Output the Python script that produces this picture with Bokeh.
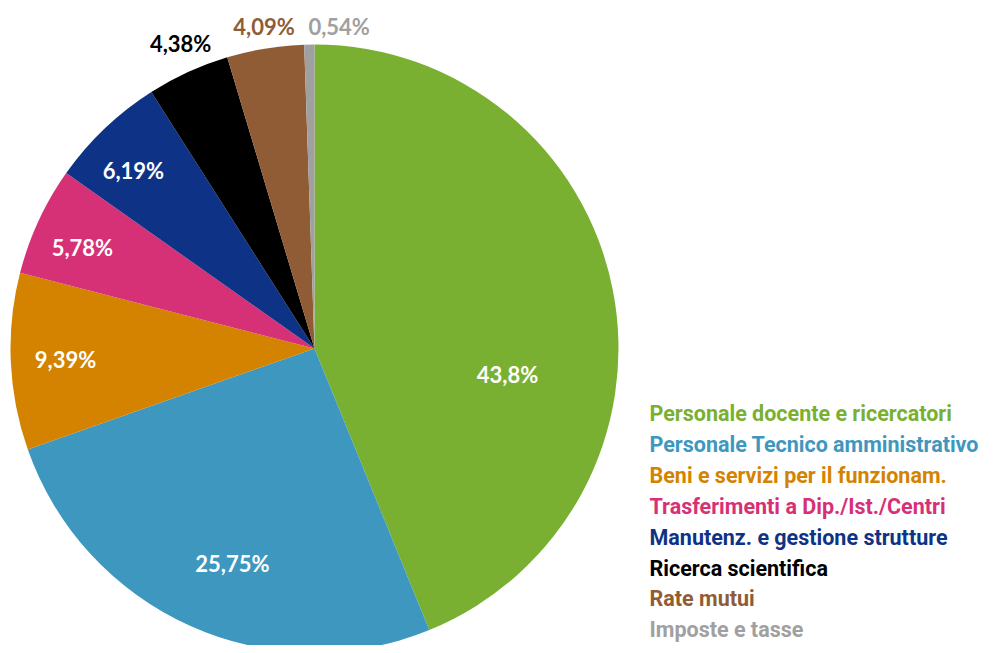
import math
from bokeh.plotting import figure
from bokeh.models import Range1d, ColumnDataSource
from bokeh.core.properties import value
from bokeh.embed import file_html
from bokeh.resources import INLINE

categories = [
    "Personale  docente e ricercatori",
    "Personale Tecnico amministrativo",
    "Beni e servizi per il funzionam.",
    "Trasferimenti a Dip./Ist./Centri",
    "Manutenz.  e gestione strutture",
    "Ricerca scientifica",
    "Rate mutui",
    "Imposte e tasse",
]
values = [43.8, 25.75, 9.39, 5.78, 6.19, 4.38, 4.09, 0.54]
value_labels = ["43,8%", "25,75%", "9,39%", "5,78%", "6,19%", "4,38%", "4,09%", "0,54%"]
colors = ["#7AB032", "#3E97BE", "#D48300", "#D63077", "#0E3386", "#000000", "#8F5C35", "#A0A0A0"]

# label placement: radius factor (relative to pie radius), clockwise angle nudge (deg)
label_rf = [0.641, 0.757, 0.82, 0.832, 0.835, 1.097, 1.072, 1.062]
label_da = [18.9, -3.3, 0.0, -1.4, -1.9, 0.9, 0.4, 5.35]
label_inside = [True, True, True, True, True, False, False, False]

W, H = 993, 645
p = figure(width=W, height=H, output_backend="svg", toolbar_location=None,
           x_range=Range1d(0, W), y_range=Range1d(0, H), min_border=0)
p.axis.visible = False
p.grid.visible = False
p.outline_line_color = None
p.background_fill_color = "white"
p.border_fill_color = "white"

cx, cy = 314, H - 348
R = 304

total = sum(values)
starts, ends, mids = [], [], []
cum = 0.0
for v in values:
    a0 = math.pi / 2 - 2 * math.pi * cum / total
    cum += v
    a1 = math.pi / 2 - 2 * math.pi * cum / total
    starts.append(a0)
    ends.append(a1)
    mids.append((a0 + a1) / 2)

src = ColumnDataSource(dict(start=starts, end=ends, color=colors))
p.wedge(x=cx, y=cy, radius=R, start_angle="start", end_angle="end",
        direction="clock", fill_color="color", line_color=None, source=src)

lx, ly, lc = [], [], []
for i, m in enumerate(mids):
    a = m - math.radians(label_da[i])
    lx.append(cx + R * label_rf[i] * math.cos(a))
    ly.append(cy + R * label_rf[i] * math.sin(a))
    lc.append("white" if label_inside[i] else colors[i])

p.text(x=lx, y=ly, text=value_labels, text_color=lc,
       text_font=value("Lato"), text_font_style="bold", text_font_size="22px",
       text_align="center", text_baseline="middle")

# legend text (no markers)
leg_x = [649] * len(categories)
leg_y = [H - (413 + 30.9 * i) for i in range(len(categories))]
p.text(x=leg_x, y=leg_y, text=categories, text_color=colors,
       text_font=value("Roboto"), text_font_style="bold", text_font_size="21.5px",
       text_align="left", text_baseline="middle")

open("out.html", "w").write(file_html(p, INLINE))
